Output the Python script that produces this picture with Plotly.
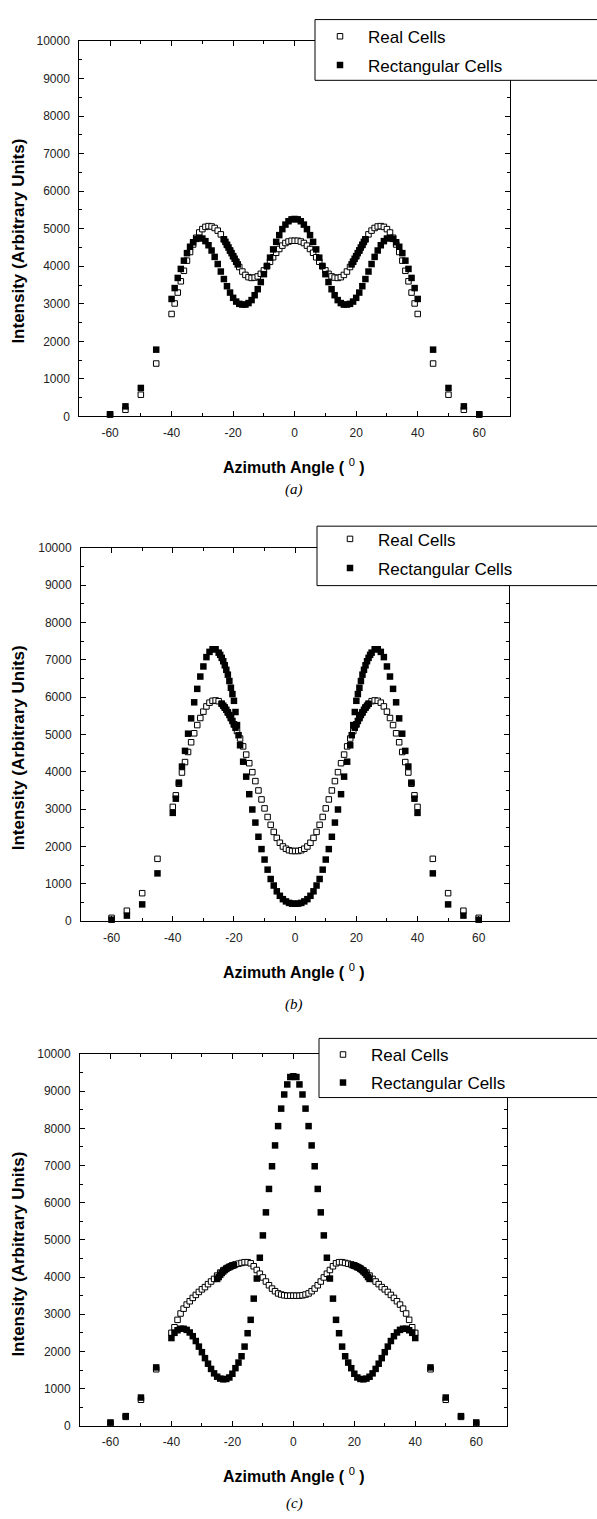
import plotly.graph_objects as go

W, H = 597, 1519

# ---------------- data ----------------
angle_outer_left = [-60, -55, -50, -45]
angle_inner = list(range(-40, 41))
angle_outer_right = [45, 50, 55, 60]
angles = angle_outer_left + angle_inner + angle_outer_right

# panel (a)
real_a = [50, 180, 580, 1410,
          2730, 3010, 3300, 3600, 3880, 4150, 4380, 4580, 4760, 4900, 4990, 5050, 5070, 5060, 5020, 4950,
          4850, 4720, 4570, 4420, 4270, 4120, 3980, 3860, 3770, 3710, 3690, 3700, 3730, 3800, 3890, 4000,
          4120, 4240, 4360, 4460, 4550, 4620, 4660, 4680,
          4680,
          4680, 4660, 4620, 4550, 4460, 4360, 4240, 4120, 4000, 3890, 3800, 3730, 3700, 3690, 3710, 3770,
          3860, 3980, 4120, 4270, 4420, 4570, 4720, 4850, 4950, 5020, 5060, 5070, 5050, 4990, 4900, 4760,
          4580, 4380, 4150, 3880, 3600, 3300, 3010, 2730,
          1410, 580, 180, 50]
rect_a = [60, 270, 760, 1780,
          3130, 3420, 3690, 3930, 4150, 4350, 4520, 4640, 4730, 4760, 4740, 4670, 4560, 4420, 4250, 4060,
          3860, 3660, 3470, 3300, 3160, 3060, 3000, 2980, 2980, 3020, 3100, 3230, 3390, 3580, 3790, 4010,
          4230, 4450, 4650, 4830, 4990, 5110, 5200, 5250,
          5260,
          5250, 5200, 5110, 4990, 4830, 4650, 4450, 4230, 4010, 3790, 3580, 3390, 3230, 3100, 3020, 2980,
          2980, 3000, 3060, 3160, 3300, 3470, 3660, 3860, 4060, 4250, 4420, 4560, 4670, 4740, 4760, 4730,
          4640, 4520, 4350, 4150, 3930, 3690, 3420, 3130,
          1780, 760, 270, 60]
rect_a_extra_x = [-23, -22.5, -22, -21.5, -21, -20.5, -20, -19.5, -19, -18.5,
                  18.5, 19, 19.5, 20, 20.5, 21, 21.5, 22, 22.5, 23]
rect_a_extra_y = [4720, 4650, 4570, 4500, 4420, 4350, 4270, 4200, 4120, 4050,
                  4050, 4120, 4200, 4270, 4350, 4420, 4500, 4570, 4650, 4720]

# panel (b)
real_b = [90, 280, 750, 1670,
          3060, 3370, 3680, 3980, 4260, 4530, 4790, 5030, 5250, 5440, 5610, 5750, 5850, 5900, 5910, 5890,
          5820, 5720, 5590, 5440, 5270, 5090, 4890, 4680, 4460, 4230, 3990, 3750, 3500, 3260, 3020, 2790,
          2580, 2390, 2230, 2100, 2000, 1940, 1900, 1880,
          1880,
          1880, 1900, 1940, 2000, 2100, 2230, 2390, 2580, 2790, 3020, 3260, 3500, 3750, 3990, 4230, 4460,
          4680, 4890, 5090, 5270, 5440, 5590, 5720, 5820, 5890, 5910, 5900, 5850, 5750, 5610, 5440, 5250,
          5030, 4790, 4530, 4260, 3980, 3680, 3370, 3060,
          1670, 750, 280, 90]
rect_b = [40, 150, 450, 1280,
          2900, 3280, 3710, 4140, 4560, 5020, 5430, 5860, 6220, 6550, 6820, 7070, 7210, 7280, 7280, 7190,
          7050, 6850, 6600, 6250, 5900, 5250, 4710, 4270, 3870, 3400, 2990, 2640, 2260, 1930, 1650, 1380,
          1130, 955, 800, 680, 590, 530, 490, 470,
          470,
          470, 490, 530, 590, 680, 800, 955, 1130, 1380, 1650, 1930, 2260, 2640, 2990, 3400, 3870,
          4270, 4710, 5250, 5900, 6250, 6600, 6850, 7050, 7190, 7280, 7280, 7210, 7070, 6820, 6550, 6220,
          5860, 5430, 5020, 4560, 4140, 3710, 3280, 2900,
          1280, 450, 150, 40]
rect_b_extra_x = [-24.5, -23.5, -22.5, -21.5, -20.5, -19.5, -18.5,
                  -24, -23.5, -23, -22.5, -22, -21.5, -21, -20.5, -20, -19.5,
                  19.5, 20, 20.5, 21, 21.5, 22, 22.5, 23, 23.5, 24,
                  18.5, 19.5, 20.5, 21.5, 22.5, 23.5, 24.5]
rect_b_extra_y = [7130, 6960, 6730, 6430, 6080, 5600, 4980,
                  5820, 5770, 5720, 5660, 5590, 5520, 5440, 5360, 5270, 5180,
                  5180, 5270, 5360, 5440, 5520, 5590, 5660, 5720, 5770, 5820,
                  4980, 5600, 6080, 6430, 6730, 6960, 7130]

# panel (c)
real_c = [70, 240, 700, 1520,
          2500, 2650, 2850, 3020, 3150, 3260, 3350, 3440, 3520, 3600, 3670, 3730, 3810, 3880, 3950, 4040,
          4120, 4180, 4230, 4270, 4310, 4340, 4360, 4380, 4400, 4400, 4370, 4290, 4190, 4090, 3990, 3880,
          3780, 3690, 3620, 3560, 3530, 3510, 3500, 3500,
          3500,
          3500, 3500, 3510, 3530, 3560, 3620, 3690, 3780, 3880, 3990, 4090, 4190, 4290, 4370, 4400, 4400,
          4380, 4360, 4340, 4310, 4270, 4230, 4180, 4120, 4040, 3950, 3880, 3810, 3730, 3670, 3600, 3520,
          3440, 3350, 3260, 3150, 3020, 2850, 2650, 2500,
          1520, 700, 240, 70]
rect_c = [90, 260, 760, 1570,
          2360, 2500, 2570, 2610, 2610, 2580, 2510, 2410, 2280, 2130, 1980, 1820, 1670, 1530, 1410, 1320,
          1270, 1250, 1260, 1300, 1400, 1550, 1700, 1870, 2130, 2490, 2850, 3420, 3960, 4520, 5120, 5740,
          6370, 6980, 7540, 8060, 8530, 8910, 9180, 9380,
          9400,
          9380, 9180, 8910, 8530, 8060, 7540, 6980, 6370, 5740, 5120, 4520, 3960, 3420, 2850, 2490, 2130,
          1870, 1700, 1550, 1400, 1300, 1260, 1250, 1270, 1320, 1410, 1530, 1670, 1820, 1980, 2130, 2280,
          2410, 2510, 2580, 2610, 2610, 2570, 2500, 2360,
          1570, 760, 260, 90]
rect_c_extra_x = [-25, -24.5, -24, -23.5, -23, -22.5, -22, -21.5, -21, -20.5, -20, -19.5,
                  19.5, 20, 20.5, 21, 21.5, 22, 22.5, 23, 23.5, 24, 24.5, 25]
rect_c_extra_y = [3950, 4000, 4060, 4110, 4150, 4190, 4220, 4250, 4270, 4290, 4310, 4320,
                  4320, 4310, 4290, 4270, 4250, 4220, 4190, 4150, 4110, 4060, 4000, 3950]

x_ticks = [-60, -40, -20, 0, 20, 40, 60]
x_tick_labels = ["-60", "-40", "-20", "0", "20", "40", "60"]
y_ticks = [0, 1000, 2000, 3000, 4000, 5000, 6000, 7000, 8000, 9000, 10000]
y_tick_labels = ["0", "1000", "2000", "3000", "4000", "5000", "6000", "7000", "8000", "9000", "10000"]
series_names = ["Real Cells", "Rectangular Cells"]
captions = ["(a)", "(b)", "(c)"]

# ---------------- layout geometry (pixels) ----------------
panels = [
    dict(l=79.3, r=510.0, t=34.3, b=413.3, box=(315, 12.7, 74.0), mk=340, row=(30, 59), cap=487),
    dict(l=81.0, r=509.3, t=545.7, b=922.7, box=(317, 524.0, 584.0), mk=350, row=(537.3, 566.7), cap=1007),
    dict(l=80.0, r=506.7, t=1056.7, b=1432.0, box=(319, 1041.0, 1100.7), mk=343, row=(1057.7, 1086.0), cap=1510),
]
data = [
    (real_a, rect_a, rect_a_extra_x, rect_a_extra_y),
    (real_b, rect_b, rect_b_extra_x, rect_b_extra_y),
    (real_c, rect_c, rect_c_extra_x, rect_c_extra_y),
]


def px(x):
    return x / W


def py(y):
    return 1 - y / H


FONT = "Liberation Sans, Arial, sans-serif"
fig = go.Figure()
layout = dict(
    width=W, height=H, margin=dict(l=0, r=0, t=0, b=0),
    paper_bgcolor="white", plot_bgcolor="white",
    font=dict(family=FONT, color="black"),
    shapes=[], annotations=[],
)

for i, (p, (real, rect, ex, ey)) in enumerate(zip(panels, data)):
    n = "" if i == 0 else str(i + 1)
    xa, ya = "x" + n, "y" + n
    lg1 = f"legend{2 * i + 2}"
    lg2 = f"legend{2 * i + 3}"
    fig.add_trace(go.Scatter(
        x=angles, y=real, mode="markers", name=series_names[0], xaxis=xa, yaxis=ya,
        legend=lg1, cliponaxis=False,
        marker=dict(symbol="square", size=5.5, color="white", line=dict(color="black", width=1)),
    ))
    fig.add_trace(go.Scatter(
        x=angles + ex, y=rect + ey, mode="markers", name=series_names[1], xaxis=xa, yaxis=ya,
        legend=lg2, cliponaxis=False,
        marker=dict(symbol="square", size=6.5, color="black", line=dict(width=0)),
    ))
    axis_common = dict(showline=True, linecolor="black", linewidth=1, mirror="allticks",
                       ticks="inside", ticklen=5, tickwidth=1, tickcolor="black",
                       showgrid=False, zeroline=False,
                       tickfont=dict(family=FONT, size=12, color="#222"))
    layout["xaxis" + n] = dict(
        axis_common, domain=[px(p["l"]), px(p["r"])], range=[-70, 70],
        tickvals=x_ticks, ticktext=x_tick_labels, ticklabelstandoff=5, anchor=ya,
        minor=dict(dtick=10, tick0=0, ticks="inside", ticklen=3, tickcolor="black"),
    )
    layout["yaxis" + n] = dict(
        axis_common, domain=[py(p["b"]), py(p["t"])], range=[0, 10000],
        tickvals=y_ticks, ticktext=y_tick_labels, ticklabelstandoff=6, anchor=xa,
        minor=dict(dtick=500, tick0=0, ticks="inside", ticklen=3, tickcolor="black"),
    )
    # legend box (white, drawn over the axis frame)
    bx, by0, by1 = p["box"]
    layout["shapes"].append(dict(type="rect", xref="paper", yref="paper",
                                 x0=px(bx), x1=px(W + 20), y0=py(by1), y1=py(by0),
                                 line=dict(color="black", width=1), fillcolor="white", layer="above"))
    for lg, ry in ((lg1, p["row"][0]), (lg2, p["row"][1])):
        layout[lg] = dict(x=px(p["mk"] - 28), y=py(ry), xanchor="left", yanchor="middle",
                          bgcolor="rgba(0,0,0,0)", borderwidth=0, itemwidth=46,
                          font=dict(family=FONT, size=17, color="black"))
    # axis titles
    layout["annotations"].append(dict(
        text="<b>Intensity (Arbitrary Units)</b>", textangle=-90, xref="paper", yref="paper",
        x=px(18.5), y=py(p["t"] + 202), showarrow=False, xanchor="center", yanchor="middle",
        font=dict(family=FONT, size=17, color="black")))
    layout["annotations"].append(dict(
        text="<b>Azimuth Angle (</b> <sup>0</sup> <b>)</b>", xref="paper", yref="paper",
        x=px(294), y=py(p["b"] + 50), showarrow=False, xanchor="center", yanchor="middle",
        font=dict(family=FONT, size=16, color="black")))
    layout["annotations"].append(dict(
        text="<i>" + captions[i] + "</i>", xref="paper", yref="paper",
        x=px(294), y=py(p["cap"]), showarrow=False, xanchor="center", yanchor="middle",
        font=dict(family="Liberation Serif, Times New Roman, serif", size=15, color="black")))

layout["showlegend"] = True
fig.update_layout(**layout)
fig.write_html("out.html")
